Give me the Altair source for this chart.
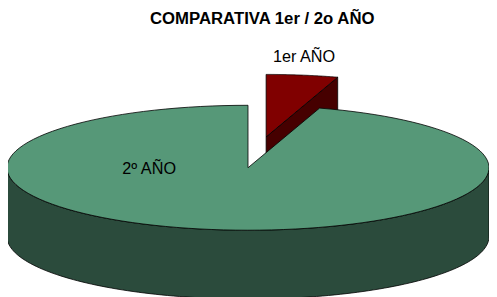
import altair as alt
import pandas as pd

# ---- data ----
categories = ["1er AÑO", "2º AÑO"]
values = [4.8, 95.2]
title_text = "COMPARATIVA 1er / 2o AÑO"

# ---- layout / style (not data) ----
CX, CY, RX, RY, DEPTH = 252, 168, 245, 63.5, 70
EXPLODE = 0.5          # only the first slice is pulled out
N = 120
TOP_COL = ["#800000", "#569878"]
SIDE_COL = ["#460000", "#2B4B3C"]
LABEL_POS = [(309, 55), (151.5, 169)]
FONT = "Liberation Sans"

df = pd.DataFrame({"category": categories, "value": values, "idx": list(range(len(categories)))})

xs = alt.Scale(domain=[8, 497], nice=False, zero=False)
ys = alt.Scale(domain=[38, 297], reverse=True, nice=False, zero=False)

base = (
    alt.Chart(df)
    .transform_joinaggregate(total="sum(value)")
    .transform_window(cum="sum(value)", sort=[alt.SortField("idx")], frame=[None, 0])
    .transform_calculate(a0="2*PI*(datum.cum - datum.value)/datum.total")
    .transform_calculate(a1="2*PI*datum.cum/datum.total")
    .transform_calculate(mid="(datum.a0 + datum.a1)/2")
    .transform_calculate(ex=f"datum.idx == 0 ? {EXPLODE} : 0")
    .transform_calculate(ox=f"datum.ex*{RX}*sin(datum.mid)")
    .transform_calculate(oy=f"-datum.ex*{RY}*cos(datum.mid)")
)


def enc(ch, i):
    return ch.encode(
        x=alt.X("px:Q", scale=xs, axis=None),
        y=alt.Y("py:Q", scale=ys, axis=None),
        order=alt.Order("k:Q"),
        detail="category:N",
    )


layers = []

# cut (radial) faces that face the viewer
for i, c in enumerate(categories):
    ch = (
        base.transform_filter(f"datum.idx == {i}")
        .transform_calculate(fa="sin(datum.a1) > 1e-6 ? datum.a1 : (sin(datum.a0) < -1e-6 ? datum.a0 : null)")
        .transform_filter("datum.fa != null")
        .transform_calculate(k="sequence(0, 5)")
        .transform_flatten(["k"])
        .transform_calculate(e="(datum.k == 1 || datum.k == 2) ? 1 : 0")
        .transform_calculate(dn="(datum.k == 2 || datum.k == 3) ? 1 : 0")
        .transform_calculate(px=f"{CX} + datum.ox + datum.e*{RX}*sin(datum.fa)")
        .transform_calculate(py=f"{CY} + datum.oy - datum.e*{RY}*cos(datum.fa) + datum.dn*{DEPTH}")
        .mark_line(fill=SIDE_COL[i], stroke="black", strokeWidth=0.8, strokeJoin="round")
    )
    layers.append(enc(ch, i))

# outer front walls
for i, c in enumerate(categories):
    ch = (
        base.transform_filter(f"datum.idx == {i}")
        .transform_calculate(lo="max(datum.a0, PI/2)")
        .transform_calculate(hi="min(datum.a1, 3*PI/2)")
        .transform_filter("datum.lo < datum.hi")
        .transform_calculate(k=f"sequence(0, {2*N+3})")
        .transform_flatten(["k"])
        .transform_calculate(t=f"datum.k <= {N} ? datum.k/{N} : (datum.k <= {2*N+1} ? ({2*N+1} - datum.k)/{N} : 0)")
        .transform_calculate(dn=f"(datum.k > {N} && datum.k <= {2*N+1}) ? 1 : 0")
        .transform_calculate(ang="datum.lo + (datum.hi - datum.lo)*datum.t")
        .transform_calculate(px=f"{CX} + datum.ox + {RX}*sin(datum.ang)")
        .transform_calculate(py=f"{CY} + datum.oy - {RY}*cos(datum.ang) + datum.dn*{DEPTH}")
        .mark_line(fill=SIDE_COL[i], stroke="black", strokeWidth=0.8, strokeJoin="round")
    )
    layers.append(enc(ch, i))

# top faces
for i, c in enumerate(categories):
    ch = (
        base.transform_filter(f"datum.idx == {i}")
        .transform_calculate(k=f"sequence(0, {N+3})")
        .transform_flatten(["k"])
        .transform_calculate(arc=f"(datum.k >= 1 && datum.k <= {N+1}) ? 1 : 0")
        .transform_calculate(ang=f"datum.a0 + (datum.a1 - datum.a0)*(datum.k - 1)/{N}")
        .transform_calculate(px=f"{CX} + datum.ox + datum.arc*{RX}*sin(datum.ang)")
        .transform_calculate(py=f"{CY} + datum.oy - datum.arc*{RY}*cos(datum.ang)")
        .mark_line(fill=TOP_COL[i], stroke="black", strokeWidth=0.8, strokeJoin="round")
    )
    layers.append(enc(ch, i))

# slice labels
for c, (lx, ly) in zip(categories, LABEL_POS):
    layers.append(
        alt.Chart(df).mark_text(font=FONT, fontSize=16.5, color="black", baseline="middle", align="center")
        .encode(x=alt.datum(lx, scale=xs), y=alt.datum(ly, scale=ys), text=alt.value(c))
        .transform_filter(alt.datum.idx == 0)
    )

chart = (
    alt.layer(*layers)
    .properties(
        width=489,
        height=259,
        padding={"left": 0, "top": 30, "right": 0, "bottom": 0},
        autosize=alt.AutoSizeParams(type="none"),
        background="white",
        title=alt.Title(title_text, font=FONT, fontSize=17, fontWeight="bold",
                        anchor="middle", dx=14, offset=12, color="black"),
    )
    .configure_view(stroke=None)
)

chart.save("out.html", embed_options={"renderer": "svg", "actions": False})
